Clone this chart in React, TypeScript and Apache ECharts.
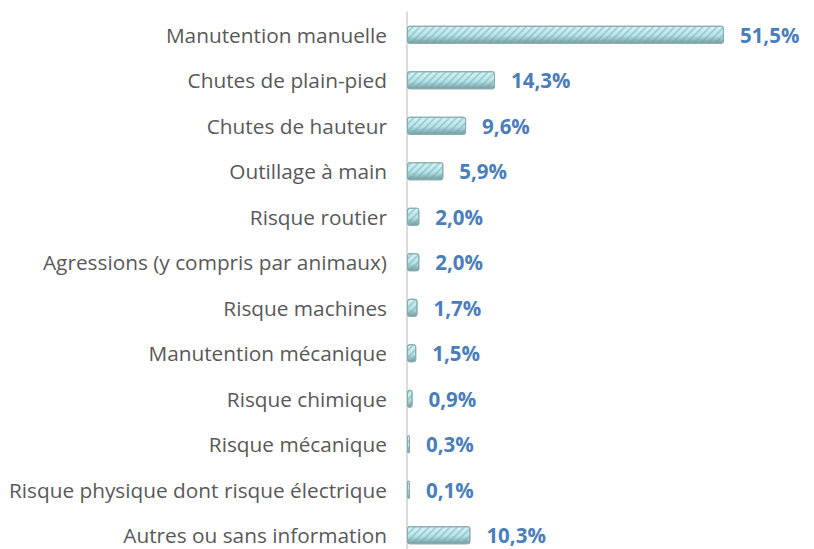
import React, { useEffect, useRef } from "react";
import * as echarts from "echarts";

const categories = [
  "Manutention manuelle",
  "Chutes de plain-pied",
  "Chutes de hauteur",
  "Outillage à main",
  "Risque routier",
  "Agressions (y compris par animaux)",
  "Risque machines",
  "Manutention mécanique",
  "Risque chimique",
  "Risque mécanique",
  "Risque physique dont risque électrique",
  "Autres ou sans information",
];
const values = [51.5, 14.3, 9.6, 5.9, 2.0, 2.0, 1.7, 1.5, 0.9, 0.3, 0.1, 10.3];

export default function App() {
  const ref = useRef<HTMLDivElement>(null);
  useEffect(() => {
    if (!ref.current) return;
    const chart = echarts.init(ref.current, undefined, { renderer: "svg" });
    chart.setOption({
      animation: false,
      backgroundColor: "#ffffff",
      grid: { left: 407, width: 400, top: 12, height: 546, containLabel: false },
      xAxis: {
        type: "value",
        min: 0,
        max: 65,
        show: false,
      },
      yAxis: {
        type: "category",
        data: categories,
        inverse: true,
        axisLine: { show: true, lineStyle: { color: "#d0d0d0", width: 1.5 } },
        axisTick: { show: false },
        axisLabel: {
          color: "#595959",
          fontSize: 20.8,
          fontFamily: "Open Sans",
          margin: 20,
        },
      },
      series: [
        {
          type: "bar",
          data: values,
          barWidth: 18,
          barMinHeight: 3,
          itemStyle: {
            color: new echarts.graphic.LinearGradient(0, 0, 0, 1, [
              { offset: 0, color: "#d6f4f7" },
              { offset: 0.55, color: "#b5e5ea" },
              { offset: 1, color: "#769c9f" },
            ]),
            borderColor: "#86adb1",
            borderWidth: 1,
            borderRadius: 2,
            decal: {
              symbol: "rect",
              symbolSize: 1,
              dashArrayX: [1, 0],
              dashArrayY: [2, 3],
              rotation: -Math.PI / 4,
              color: "rgba(110,160,165,0.4)",
            },
          },
          label: {
            show: true,
            position: "right",
            distance: 16,
            color: "#4a7ebb",
            fontSize: 20.5,
            fontWeight: "bold",
            fontFamily: "Open Sans",
            formatter: (p: any) => p.value.toFixed(1).replace(".", ",") + "%",
          },
        },
      ],
    });
    return () => chart.dispose();
  }, []);
  return (
    <div
      ref={ref}
      style={{ position: "fixed", left: 0, top: 0, width: 814, height: 570 }}
    />
  );
}
